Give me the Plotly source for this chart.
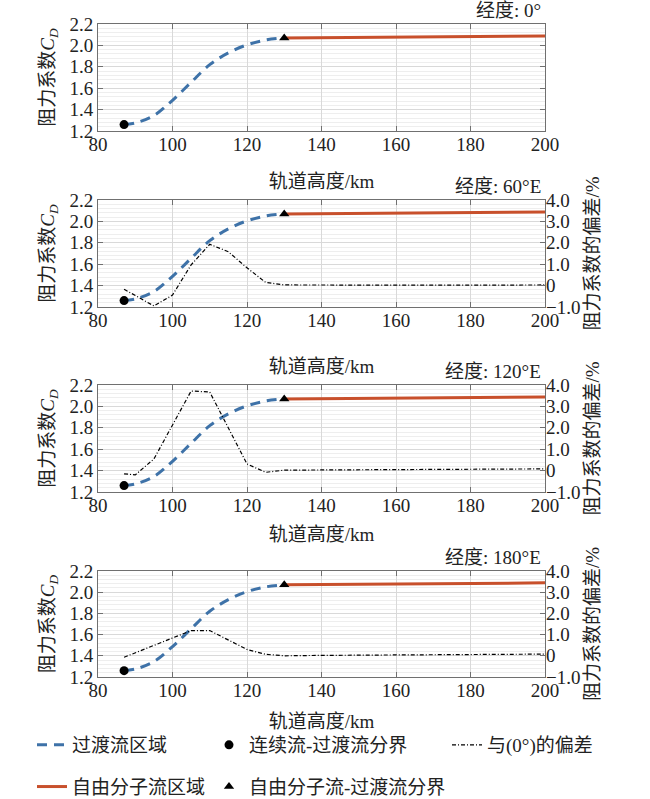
import plotly.graph_objects as go

# ---------------- data ----------------
alt_trans = [87, 90, 95, 100, 105, 110, 115, 120, 125, 130]
cd_trans = [1.26, 1.275, 1.345, 1.487, 1.655, 1.82, 1.93, 2.005, 2.05, 2.07]

alt_free = [130, 200]
cd_free = [2.07, 2.088]

alt_cont_bound = [87]
cd_cont_bound = [1.26]
alt_free_bound = [130]
cd_free_bound = [2.07]

alt_dev = [87, 90, 95, 100, 105, 110, 115, 120, 125, 130, 140, 150, 160, 170, 180, 190, 200]
dev_60E = [-0.17, -0.46, -0.95, -0.44, 0.97, 1.93, 1.58, 0.83, 0.15, 0.03, 0.02, 0.02, 0.02, 0.02, 0.02, 0.03, 0.03]
dev_120E = [-0.15, -0.2, 0.54, 2.1, 3.72, 3.67, 1.98, 0.31, -0.08, 0.02, 0.03, 0.04, 0.05, 0.05, 0.06, 0.07, 0.08]
dev_180E = [-0.07, 0.14, 0.5, 0.84, 1.19, 1.19, 0.74, 0.3, 0.07, 0.0, 0.02, 0.03, 0.04, 0.05, 0.06, 0.07, 0.08]

panel_titles = ["经度: 0°", "经度: 60°E", "经度: 120°E", "经度: 180°E"]
dev_series = [None, dev_60E, dev_120E, dev_180E]

x_ticks = [80, 100, 120, 140, 160, 180, 200]
left_ticks = [1.2, 1.4, 1.6, 1.8, 2.0, 2.2]
left_ticktext = ["1.2", "1.4", "1.6", "1.8", "2.0", "2.2"]
right_ticks = [-1.0, 0.0, 1.0, 2.0, 3.0, 4.0]
right_ticktext = ["−1.0", "0", "1.0", "2.0", "3.0", "4.0"]

names = {
    "trans": "过渡流区域",
    "free": "自由分子流区域",
    "cont_b": "连续流-过渡流分界",
    "free_b": "自由分子流-过渡流分界",
    "dev": "与(0°)的偏差",
}

# ---------------- style ----------------
FONT = "Liberation Serif, Noto Sans CJK SC, serif"
BLUE = "#3E72A8"
RED = "#C8502C"
AXC = "#707070"
GRID = "#d9d9d9"
MINOR = "#eeeeee"

W, H = 650, 799
PL, PR = 98, 545
PT, PB = 24, 677
L = PL
R = W - PR
T = PT
B = H - PB
ph = PB - PT
pw = PR - PL
panels_px = [(24, 131), (200, 307), (385, 492), (571, 677)]
xtitle_standoff = [20, 29, 12, 14]


def frac(py):
    return (PB - py) / ph


def xfrac(px):
    return (px - PL) / pw


fig = go.Figure()

for i in range(4):
    n = i + 1
    xa = "x" if n == 1 else f"x{n}"
    ya = "y" if n == 1 else f"y{n}"
    first = n == 1
    fig.add_trace(go.Scatter(
        x=alt_trans, y=cd_trans, xaxis=xa, yaxis=ya, mode="lines",
        line=dict(color=BLUE, width=3, dash="10px,7px", shape="spline"),
        name=names["trans"], legend="legend", legendgroup="a", showlegend=first))
    fig.add_trace(go.Scatter(
        x=alt_free, y=cd_free, xaxis=xa, yaxis=ya, mode="lines",
        line=dict(color=RED, width=3),
        name=names["free"], legend="legend", legendgroup="b", showlegend=first))
    if dev_series[i] is not None:
        ry = f"y{n + 3}"
        fig.add_trace(go.Scatter(
            x=alt_dev, y=dev_series[i], xaxis=xa, yaxis=ry, mode="lines",
            line=dict(color="black", width=1.2, dash="4px,2px,1px,2px"),
            name=names["dev"], legend="legend3", legendgroup="e", showlegend=(n == 2)))
    fig.add_trace(go.Scatter(
        x=alt_cont_bound, y=cd_cont_bound, xaxis=xa, yaxis=ya, mode="markers",
        marker=dict(color="black", size=9, symbol="circle"),
        name=names["cont_b"], legend="legend2", legendgroup="c", showlegend=first))
    fig.add_trace(go.Scatter(
        x=alt_free_bound, y=cd_free_bound, xaxis=xa, yaxis=ya, mode="markers",
        marker=dict(color="black", size=9, symbol="triangle-up"),
        name=names["free_b"], legend="legend2", legendgroup="d", showlegend=first))

layout = dict(
    width=W, height=H,
    margin=dict(l=L, r=R, t=T, b=B, autoexpand=False),
    paper_bgcolor="white", plot_bgcolor="white",
    font=dict(family=FONT, size=19, color="#222"),
    annotations=[],
)

for i in range(4):
    n = i + 1
    top, bot = panels_px[i]
    dom = [frac(bot), frac(top)]
    xk = "xaxis" if n == 1 else f"xaxis{n}"
    yk = "yaxis" if n == 1 else f"yaxis{n}"
    ya = "y" if n == 1 else f"y{n}"
    xa = "x" if n == 1 else f"x{n}"
    layout[xk] = dict(
        domain=[0, 1], anchor=ya, range=[80, 200], automargin=False,
        tickvals=x_ticks, ticktext=[str(v) for v in x_ticks],
        ticks="inside", ticklen=5, tickcolor=AXC, ticklabelstandoff=-4,
        showline=True, linecolor=AXC, linewidth=1, mirror="ticks",
        showgrid=True, gridcolor=GRID, zeroline=False,
        tickfont=dict(size=19, family=FONT),
        title=dict(text="轨道高度/km", font=dict(size=19, family=FONT), standoff=xtitle_standoff[i]),
    )
    layout[yk] = dict(
        domain=dom, anchor=xa, range=[1.2, 2.2], automargin=False,
        tickvals=left_ticks, ticktext=left_ticktext,
        ticks="inside", ticklen=5, tickcolor=AXC,
        showline=True, linecolor=AXC, linewidth=1, mirror="ticks",
        showgrid=True, gridcolor=GRID, zeroline=False,
        minor=dict(dtick=0.04, tick0=1.2, showgrid=True, gridcolor=MINOR, ticks=""),
        tickfont=dict(size=19, family=FONT),
        title=dict(text="阻力系数<i>C</i><sub><i>D</i></sub>", font=dict(size=19, family=FONT), standoff=9),
    )
    if n >= 2:
        layout[f"yaxis{n + 3}"] = dict(
            overlaying=ya, anchor=xa, side="right", range=[-1, 4], automargin=False,
            tickvals=right_ticks, ticktext=right_ticktext,
            ticks="inside", ticklen=5, tickcolor=AXC,
            showline=False, showgrid=False, zeroline=False,
            tickfont=dict(size=19, family=FONT),
            title=dict(text="阻力系数的偏差/%", font=dict(size=19, family=FONT), standoff=6),
        )
    layout["annotations"].append(dict(
        text=panel_titles[i], xref="paper", yref="paper",
        x=xfrac(543), y=frac(top - 1), xanchor="right", yanchor="bottom",
        showarrow=False, font=dict(size=19, family=FONT)))

leg_common = dict(orientation="v", yanchor="top", xanchor="left",
                  bgcolor="rgba(0,0,0,0)", tracegroupgap=14,
                  font=dict(size=19, family=FONT), itemwidth=30)
layout["legend"] = dict(leg_common, x=xfrac(32), y=frac(726))
layout["legend2"] = dict(leg_common, x=xfrac(209), y=frac(726))
layout["legend3"] = dict(leg_common, x=xfrac(447), y=frac(726))

fig.update_layout(**layout)
fig.write_html("out.html", config={"displayModeBar": False},
               post_script="document.body.style.margin='0';")
